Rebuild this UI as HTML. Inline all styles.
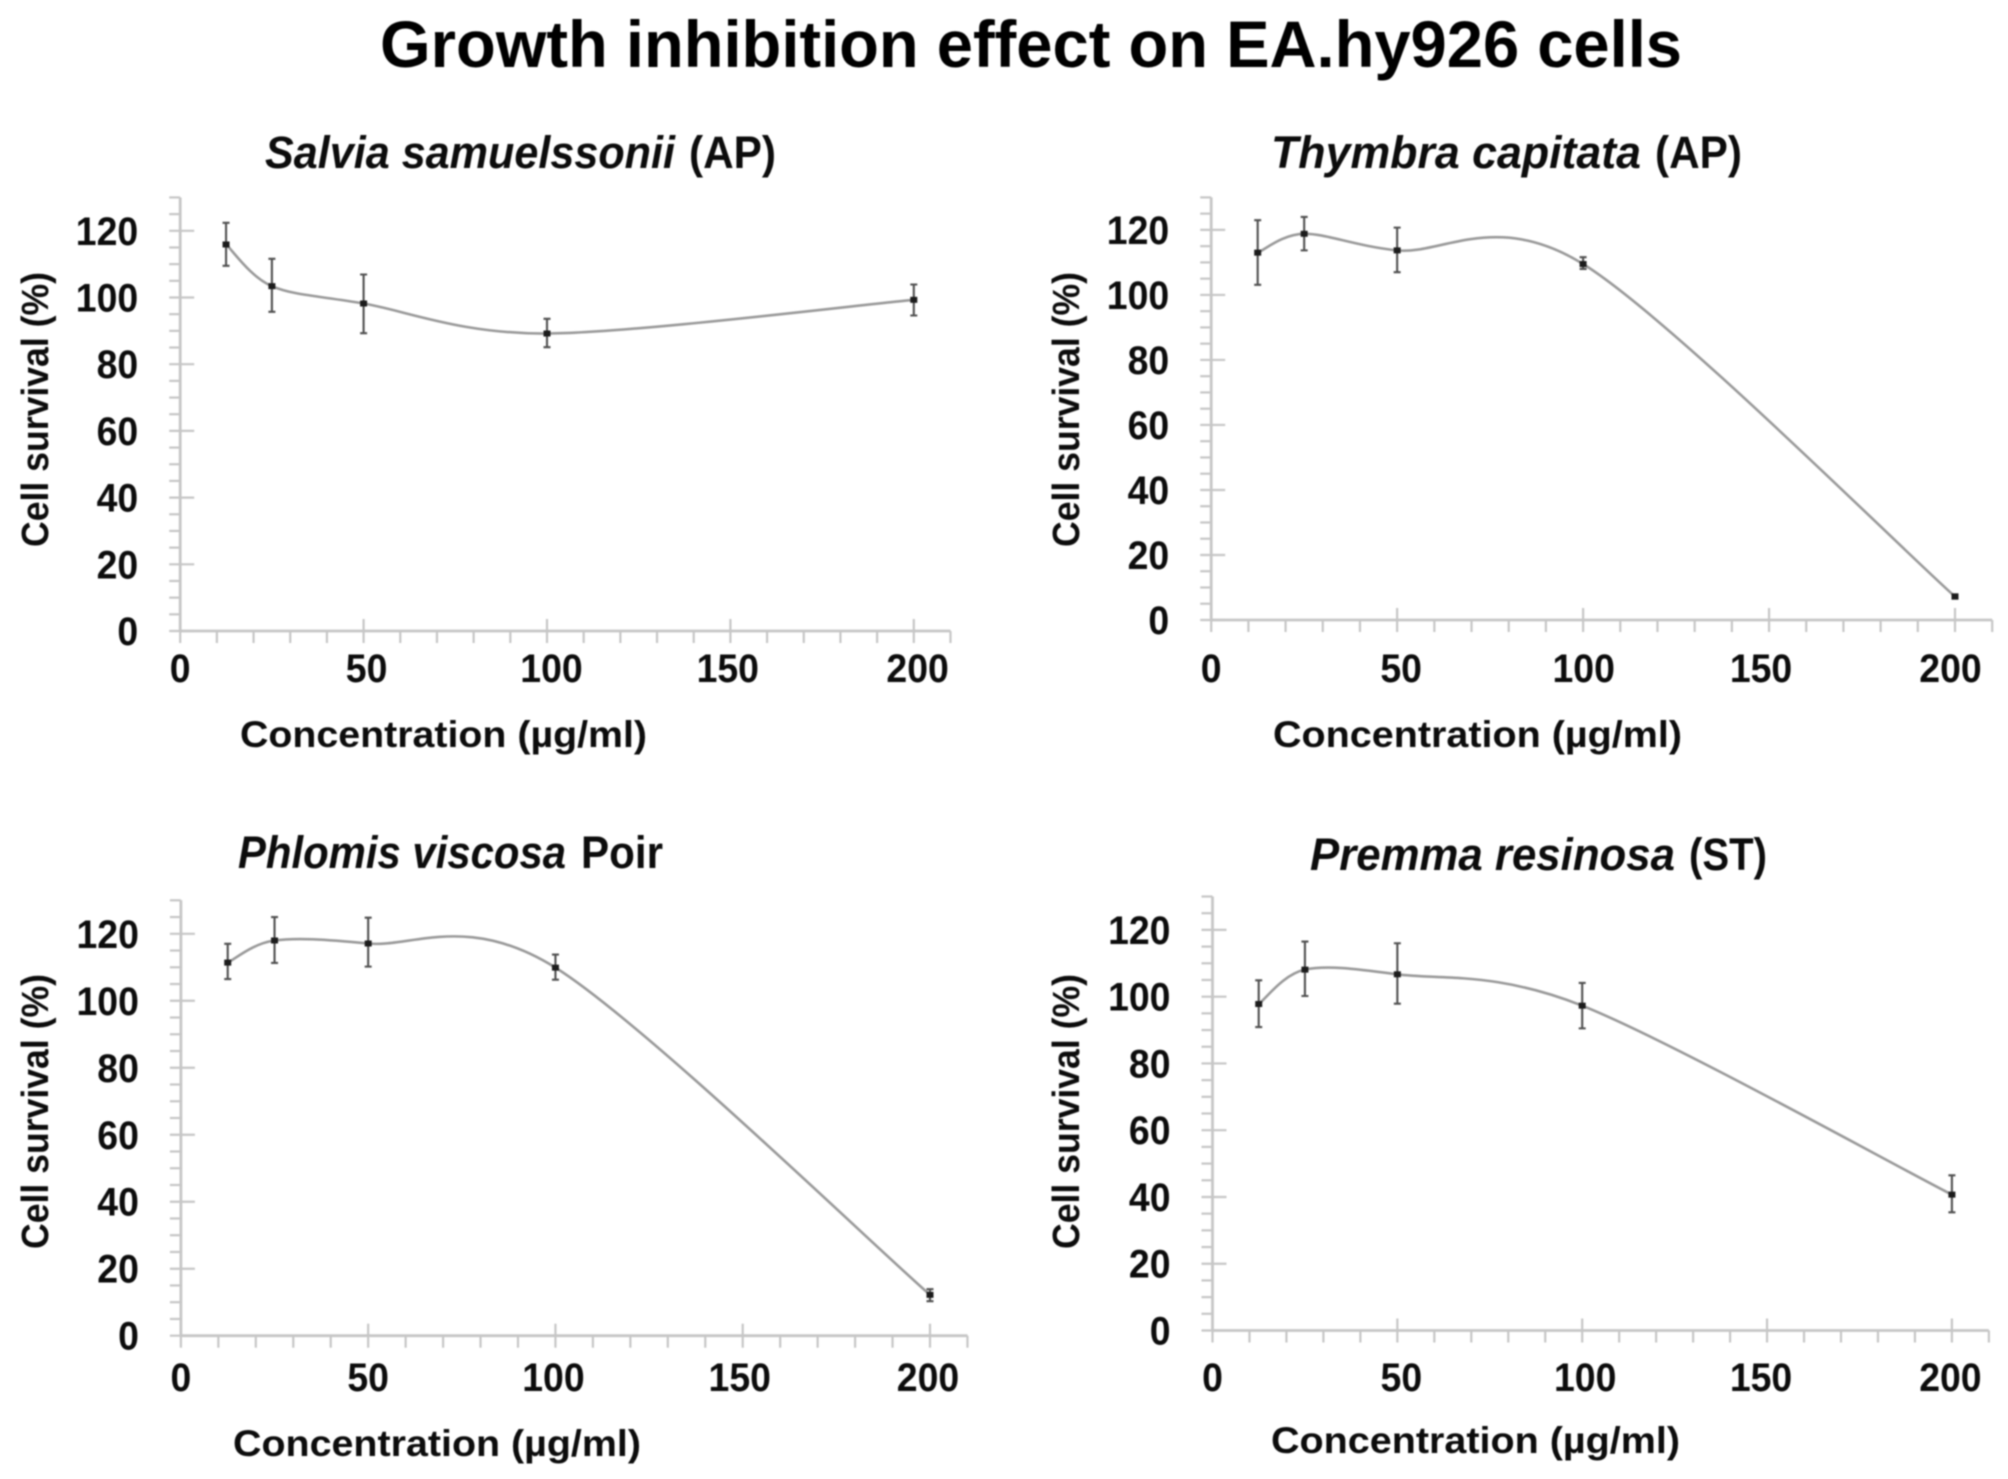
<!DOCTYPE html>
<html lang="en">
<head>
<meta charset="utf-8">
<title>Growth inhibition effect on EA.hy926 cells</title>
<style>
  html, body { margin: 0; padding: 0; background: #fff; }
  svg { display: block; filter: blur(0.9px); }
  text { font-family: "Liberation Sans", sans-serif; fill: #0c0c0c; }
  .b { font-weight: bold; }
  .bi { font-weight: bold; font-style: italic; }
</style>
</head>
<body>
<svg id="figure" xmlns="http://www.w3.org/2000/svg" width="2008" height="1479" viewBox="0 0 2008 1479">
  <rect x="0" y="0" width="2008" height="1479" fill="#fff"/>
  <text class="b" x="380" y="67" font-size="66" textLength="1302" lengthAdjust="spacingAndGlyphs" style="fill:#000">Growth inhibition effect on EA.hy926 cells</text>

  <g id="panel-salvia">
    <text class="bi" x="265" y="168" font-size="45" textLength="410" lengthAdjust="spacingAndGlyphs">Salvia samuelssonii</text>
    <text class="b" x="689" y="168" font-size="45" textLength="87" lengthAdjust="spacingAndGlyphs">(AP)</text>
    <text class="b" transform="translate(48 547) rotate(-90)" font-size="38" textLength="275" lengthAdjust="spacingAndGlyphs">Cell survival (%)</text>
    <text class="b" x="240" y="747" font-size="37" textLength="407" lengthAdjust="spacingAndGlyphs">Concentration (µg/ml)</text>
  </g>

  <g id="panel-thymbra">
    <text class="bi" x="1271" y="168" font-size="45" textLength="370" lengthAdjust="spacingAndGlyphs">Thymbra capitata</text>
    <text class="b" x="1655" y="168" font-size="45" textLength="87" lengthAdjust="spacingAndGlyphs">(AP)</text>
    <text class="b" transform="translate(1079 547) rotate(-90)" font-size="38" textLength="275" lengthAdjust="spacingAndGlyphs">Cell survival (%)</text>
    <text class="b" x="1273" y="747" font-size="37" textLength="409" lengthAdjust="spacingAndGlyphs">Concentration (µg/ml)</text>
  </g>

  <g id="panel-phlomis">
    <text class="bi" x="238" y="868" font-size="45" textLength="328" lengthAdjust="spacingAndGlyphs">Phlomis viscosa</text>
    <text class="b" x="581" y="868" font-size="45" textLength="82" lengthAdjust="spacingAndGlyphs">Poir</text>
    <text class="b" transform="translate(48 1249) rotate(-90)" font-size="38" textLength="275" lengthAdjust="spacingAndGlyphs">Cell survival (%)</text>
    <text class="b" x="233" y="1456" font-size="37" textLength="408" lengthAdjust="spacingAndGlyphs">Concentration (µg/ml)</text>
  </g>

  <g id="panel-premma">
    <text class="bi" x="1310" y="870" font-size="45" textLength="365" lengthAdjust="spacingAndGlyphs">Premma resinosa</text>
    <text class="b" x="1689" y="870" font-size="45" textLength="78" lengthAdjust="spacingAndGlyphs">(ST)</text>
    <text class="b" transform="translate(1079 1249) rotate(-90)" font-size="38" textLength="275" lengthAdjust="spacingAndGlyphs">Cell survival (%)</text>
    <text class="b" x="1271" y="1453" font-size="37" textLength="409" lengthAdjust="spacingAndGlyphs">Concentration (µg/ml)</text>
  </g>
</svg>

<script>
// ---- Data ----
const concentrations = [12.5, 25, 50, 100, 200];
const xTickLabels = [0, 50, 100, 150, 200];
const yTickLabels = [0, 20, 40, 60, 80, 100, 120];

const salviaSurvival = [115.9, 103.4, 98.2, 89.2, 99.3];
const salviaUpper = [122.4, 111.6, 106.9, 93.6, 103.9];
const salviaLower = [109.5, 95.7, 89.3, 85.1, 94.6];

const thymbraSurvival = [113, 118.8, 113.7, 109.5, 7.2];
const thymbraUpper = [123, 124, 120.7, 111.6, 7.9];
const thymbraLower = [103.1, 113.7, 107, 108, 6.6];

const phlomisSurvival = [111.4, 118, 117.1, 109.9, 12.2];
const phlomisUpper = [117, 125, 124.8, 113.8, 13.9];
const phlomisLower = [106.5, 111.3, 110.2, 106.3, 10.3];

const premmaSurvival = [97.8, 108.1, 106.7, 97.3, 40.7];
const premmaUpper = [104.9, 116.5, 116, 104.1, 46.5];
const premmaLower = [90.9, 100.2, 97.9, 90.5, 35.4];

// ---- Axis limits and tick steps ----
const xAxisMax = 210;
const yAxisMax = 130;
const xMinorStep = 10;
const yMinorStep = 5;

// ---- Panel frames ----
const panels = [
  { id: 'panel-salvia', key: 'salvia', survival: salviaSurvival, upper: salviaUpper, lower: salviaLower,
    x0: 180.2, x200: 913.8, y0: 631, y120: 230.8, xLabelBase: 682, xLabelNudge: [0, 3, 4.5, -2.6, 3.8] },
  { id: 'panel-thymbra', key: 'thymbra', survival: thymbraSurvival, upper: thymbraUpper, lower: thymbraLower,
    x0: 1211.2, x200: 1955, y0: 620, y120: 229.9, xLabelBase: 682, xLabelNudge: [0, 4, 0.6, -8, -4.5] },
  { id: 'panel-phlomis', key: 'phlomis', survival: phlomisSurvival, upper: phlomisUpper, lower: phlomisLower,
    x0: 180.9, x200: 930, y0: 1335.7, y120: 933.8, xLabelBase: 1391, xLabelNudge: [0, 0, -2, -3, -2] },
  { id: 'panel-premma', key: 'premma', survival: premmaSurvival, upper: premmaUpper, lower: premmaLower,
    x0: 1212.5, x200: 1951.9, y0: 1330.5, y120: 929.9, xLabelBase: 1391, xLabelNudge: [0, 4, 3, -6, -1.5] }
];

const SVGNS = 'http://www.w3.org/2000/svg';
const AXIS_COLOR = '#c6c6c6';
const TICK_FONT_SIZE = 40;
const TICK_DIGIT_WIDTH = 20.8;

function make(parent, tag, attrs) {
  const el = document.createElementNS(SVGNS, tag);
  for (const k in attrs) el.setAttribute(k, attrs[k]);
  parent.appendChild(el);
  return el;
}

function smoothPath(pts) {
  // Spreadsheet-style smoothed line: cubic segments with tangents from neighbouring points
  const k = 6.4;
  let d = 'M' + pts[0][0].toFixed(2) + ' ' + pts[0][1].toFixed(2);
  for (let i = 0; i < pts.length - 1; i++) {
    const p0 = pts[Math.max(0, i - 1)];
    const p1 = pts[i];
    const p2 = pts[i + 1];
    const p3 = pts[Math.min(pts.length - 1, i + 2)];
    const c1x = p1[0] + (p2[0] - p0[0]) / k;
    const c1y = p1[1] + (p2[1] - p0[1]) / k;
    const c2x = p2[0] - (p3[0] - p1[0]) / k;
    const c2y = p2[1] - (p3[1] - p1[1]) / k;
    d += 'C' + c1x.toFixed(2) + ' ' + c1y.toFixed(2) + ' ' + c2x.toFixed(2) + ' ' + c2y.toFixed(2) + ' ' + p2[0].toFixed(2) + ' ' + p2[1].toFixed(2);
  }
  return d;
}

panels.forEach(function (panel) {
  const group = document.getElementById(panel.id);
  const xScale = function (v) { return panel.x0 + (panel.x200 - panel.x0) * v / 200; };
  const yScale = function (v) { return panel.y0 + (panel.y120 - panel.y0) * v / 120; };

  // Axis lines
  const xAxis = make(group, 'line', { x1: xScale(0), x2: xScale(xAxisMax), y1: yScale(0), y2: yScale(0), stroke: AXIS_COLOR, 'stroke-width': 2.8 });
  
  
  const yAxis = make(group, 'line', { x1: xScale(0), x2: xScale(0), y1: yScale(0) + 1, y2: yScale(yAxisMax), stroke: AXIS_COLOR, 'stroke-width': 2.8 });
  
  

  // X ticks
  for (let v = 0; v <= xAxisMax; v += xMinorStep) {
    const major = v % 50 === 0;
    const tick = make(group, 'line', {
      x1: xScale(v), x2: xScale(v),
      y1: yScale(0) - (major && v > 0 ? 12 : 0), y2: yScale(0) + 12,
      stroke: AXIS_COLOR, 'stroke-width': 2.2
    });
    
    
  }
  // Y ticks
  for (let v = 0; v <= yAxisMax; v += yMinorStep) {
    const major = v % 20 === 0;
    const tick = make(group, 'line', {
      x1: xScale(0) - 11, x2: xScale(0) + (major ? 14 : 0),
      y1: yScale(v), y2: yScale(v),
      stroke: AXIS_COLOR, 'stroke-width': 2.2
    });
    
    
  }

  // Tick labels
  xTickLabels.forEach(function (v, i) {
    const text = String(v);
    const label = make(group, 'text', {
      x: xScale(v) + panel.xLabelNudge[i], y: panel.xLabelBase,
      'font-size': TICK_FONT_SIZE, 'text-anchor': 'middle', 'class': 'b',
      textLength: text.length * TICK_DIGIT_WIDTH, lengthAdjust: 'spacingAndGlyphs'
    });
    
    
    label.textContent = text;
  });
  yTickLabels.forEach(function (v) {
    const text = String(v);
    const label = make(group, 'text', {
      x: xScale(0) - 42, y: yScale(v) + 14,
      'font-size': TICK_FONT_SIZE, 'text-anchor': 'end', 'class': 'b',
      textLength: text.length * TICK_DIGIT_WIDTH, lengthAdjust: 'spacingAndGlyphs'
    });
    
    
    label.textContent = text;
  });

  // Smoothed series line
  const pts = concentrations.map(function (c, i) { return [xScale(c), yScale(panel.survival[i])]; });
  const line = make(group, 'path', { d: smoothPath(pts), fill: 'none', stroke: '#9a9a9a', 'stroke-width': 2.6 });
  
  

  // Error bars and markers
  concentrations.forEach(function (c, i) {
    const x = xScale(c);
    const top = yScale(panel.upper[i]);
    const bottom = yScale(panel.lower[i]);
    const bar = make(group, 'path', {
      d: 'M' + x + ' ' + top + 'V' + bottom + 'M' + (x - 3.5) + ' ' + top + 'H' + (x + 3.5) + 'M' + (x - 3.5) + ' ' + bottom + 'H' + (x + 3.5),
      fill: 'none', stroke: '#505050', 'stroke-width': 2.1
    });
    
    
    const point = make(group, 'rect', { x: x - 3.5, y: yScale(panel.survival[i]) - 3, width: 7, height: 6, fill: '#1c1c1c' });
    
    
  });
});
</script>
</body>
</html>
